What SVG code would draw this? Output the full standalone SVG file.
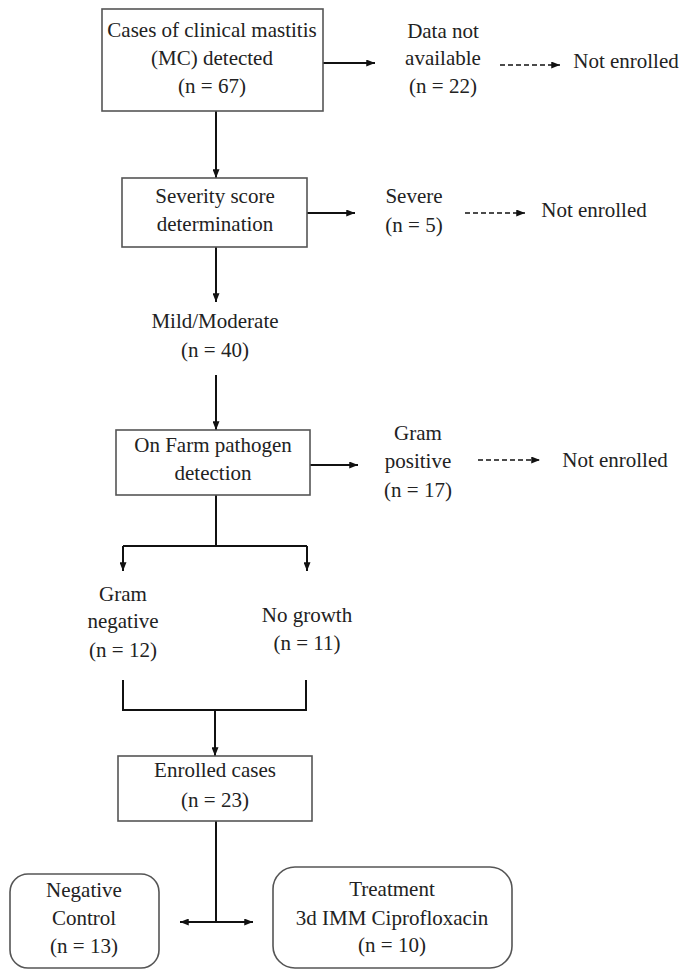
<svg xmlns="http://www.w3.org/2000/svg" width="682" height="970" viewBox="0 0 682 970">
<defs>
<style>
text{font-family:"Liberation Serif","Times New Roman",serif;font-size:21px;fill:#222;text-anchor:middle}
.box{fill:#fff;stroke:#555;stroke-width:1.6}
.ln{fill:none;stroke:#111;stroke-width:2}
.dash{fill:none;stroke:#111;stroke-width:1.6;stroke-dasharray:5 3}
</style>
<marker id="ah" viewBox="0 0 10 8" refX="10" refY="4" markerWidth="9" markerHeight="7" markerUnits="userSpaceOnUse" orient="auto">
<path d="M0,0 L10,4 L0,8 z" fill="#111"/>
</marker>
</defs>
<rect width="682" height="970" fill="#fff"/>
<g id="connectors">
<path class="ln" d="M323,63 H375" marker-end="url(#ah)"/>
<path class="dash" d="M500,65 H560" marker-end="url(#ah)"/>
<path class="ln" d="M216,111 V178" marker-end="url(#ah)"/>
<path class="ln" d="M307,213 H355" marker-end="url(#ah)"/>
<path class="dash" d="M465,213 H525" marker-end="url(#ah)"/>
<path class="ln" d="M216,247 V302" marker-end="url(#ah)"/>
<path class="ln" d="M216,375 V430" marker-end="url(#ah)"/>
<path class="ln" d="M310,465 H358" marker-end="url(#ah)"/>
<path class="dash" d="M478,460 H540" marker-end="url(#ah)"/>
<path class="ln" d="M216,495 V546 M123,546 H307"/>
<path class="ln" d="M123,546 V571" marker-end="url(#ah)"/>
<path class="ln" d="M307,546 V571" marker-end="url(#ah)"/>
<path class="ln" d="M123,680 V710 H306 V680"/>
<path class="ln" d="M215,710 V756" marker-end="url(#ah)"/>
<path class="ln" d="M216,821 V922"/>
<path class="ln" d="M216,922 H180" marker-end="url(#ah)"/>
<path class="ln" d="M216,922 H253" marker-end="url(#ah)"/>
</g>
<g id="mc-detected">
<rect class="box" x="102" y="9" width="221" height="102"/>
<text x="212" y="37">Cases of clinical mastitis</text>
<text x="212" y="65">(MC) detected</text>
<text x="212" y="93">(n = 67)</text>
</g>
<g id="data-not-available">
<text x="443" y="38">Data not</text>
<text x="443" y="65">available</text>
<text x="443" y="93">(n = 22)</text>
</g>
<g id="not-enrolled-1"><text x="626" y="68">Not enrolled</text></g>
<g id="severity">
<rect class="box" x="122" y="178" width="185" height="69"/>
<text x="215" y="203">Severity score</text>
<text x="215" y="231">determination</text>
</g>
<g id="severe">
<text x="414" y="203">Severe</text>
<text x="414" y="232">(n = 5)</text>
</g>
<g id="not-enrolled-2"><text x="594" y="217">Not enrolled</text></g>
<g id="mild-moderate">
<text x="215" y="328">Mild/Moderate</text>
<text x="215" y="357">(n = 40)</text>
</g>
<g id="on-farm">
<rect class="box" x="116" y="430" width="194" height="65"/>
<text x="213" y="452">On Farm pathogen</text>
<text x="213" y="480">detection</text>
</g>
<g id="gram-positive">
<text x="418" y="440">Gram</text>
<text x="418" y="468">positive</text>
<text x="418" y="497">(n = 17)</text>
</g>
<g id="not-enrolled-3"><text x="615" y="467">Not enrolled</text></g>
<g id="gram-negative">
<text x="123" y="601">Gram</text>
<text x="123" y="628">negative</text>
<text x="123" y="657">(n = 12)</text>
</g>
<g id="no-growth">
<text x="307" y="622">No growth</text>
<text x="307" y="650">(n = 11)</text>
</g>
<g id="enrolled">
<rect class="box" x="118" y="756" width="194" height="65"/>
<text x="215" y="777">Enrolled cases</text>
<text x="215" y="807">(n = 23)</text>
</g>
<g id="negative-control">
<rect class="box" x="10" y="874" width="149" height="94" rx="18"/>
<text x="84" y="897">Negative</text>
<text x="84" y="925">Control</text>
<text x="84" y="953">(n = 13)</text>
</g>
<g id="treatment">
<rect class="box" x="273" y="867" width="239" height="101" rx="22"/>
<text x="392" y="896">Treatment</text>
<text x="392" y="925">3d IMM Ciprofloxacin</text>
<text x="392" y="952">(n = 10)</text>
</g>
</svg>
